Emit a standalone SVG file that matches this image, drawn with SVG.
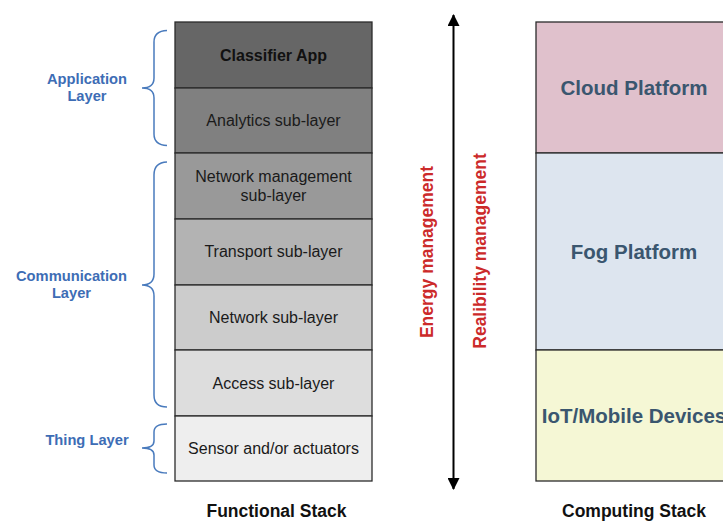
<svg xmlns="http://www.w3.org/2000/svg" width="723" height="521" viewBox="0 0 723 521">
  <style>
    .cell { stroke: #2b2b2b; stroke-width: 1.3; }
    .ct { font-family: "Liberation Sans", Arial, sans-serif; font-size: 16px; fill: #1a1a1a; text-anchor: middle; }
    .ctb { font-family: "Liberation Sans", Arial, sans-serif; font-size: 16px; font-weight: bold; fill: #111; text-anchor: middle; }
    .lbl { font-family: "Liberation Sans", Arial, sans-serif; font-size: 14.7px; font-weight: bold; fill: #3d6db5; text-anchor: middle; }
    .brace { fill: none; stroke: #4a7bbd; stroke-width: 1.5; }
    .plat { font-family: "Liberation Sans", Arial, sans-serif; font-size: 20.5px; font-weight: bold; fill: #3a566f; text-anchor: middle; }
    .mgmt { font-family: "Liberation Sans", Arial, sans-serif; font-size: 17.5px; font-weight: bold; fill: #cc2a2a; text-anchor: middle; }
    .title { font-family: "Liberation Sans", Arial, sans-serif; font-size: 17.5px; font-weight: bold; fill: #111; text-anchor: middle; }
  </style>
  <defs>
    <marker id="head" viewBox="0 0 12 12" refX="11" refY="6" markerWidth="12" markerHeight="12" markerUnits="userSpaceOnUse" orient="auto-start-reverse">
      <path d="M0,0 L12,6 L0,12 Z" fill="#000"/>
    </marker>
  </defs>

  <rect width="723" height="521" fill="#fff"/>

  <!-- Functional stack -->
  <g id="classifier-app">
    <rect class="cell" x="175" y="22" width="197" height="66" fill="#666666"/>
    <text class="ctb" x="273.5" y="61">Classifier App</text>
  </g>
  <g id="analytics">
    <rect class="cell" x="175" y="88" width="197" height="65" fill="#808080"/>
    <text class="ct" x="273.5" y="126">Analytics sub-layer</text>
  </g>
  <g id="network-management">
    <rect class="cell" x="175" y="153" width="197" height="66" fill="#999999"/>
    <text class="ct" x="273.5" y="182">Network management</text>
    <text class="ct" x="273.5" y="200.5">sub-layer</text>
  </g>
  <g id="transport">
    <rect class="cell" x="175" y="219" width="197" height="66" fill="#b3b3b3"/>
    <text class="ct" x="273.5" y="257">Transport sub-layer</text>
  </g>
  <g id="network">
    <rect class="cell" x="175" y="285" width="197" height="65" fill="#cccccc"/>
    <text class="ct" x="273.5" y="323">Network sub-layer</text>
  </g>
  <g id="access">
    <rect class="cell" x="175" y="350" width="197" height="66" fill="#dddddd"/>
    <text class="ct" x="273.5" y="389">Access sub-layer</text>
  </g>
  <g id="sensor">
    <rect class="cell" x="175" y="416" width="197" height="65" fill="#eeeeee"/>
    <text class="ct" x="273.5" y="454">Sensor and/or actuators</text>
  </g>

  <!-- Layer groupings -->
  <g id="application-layer">
    <path class="brace" d="M167,30.5 Q154,31 154,42 L154,78 Q154,88 142,88 Q154,88 154,98 L154,134 Q154,145 167,145.5"/>
    <text class="lbl" x="87" y="84">Application</text>
    <text class="lbl" x="87" y="101">Layer</text>
  </g>
  <g id="communication-layer">
    <path class="brace" d="M167,162 Q154,162.5 154,175 L154,274 Q154,285 142,285 Q154,285 154,296 L154,395 Q154,407 167,407"/>
    <text class="lbl" x="71.5" y="281">Communication</text>
    <text class="lbl" x="71.5" y="298">Layer</text>
  </g>
  <g id="thing-layer">
    <path class="brace" d="M167,424 Q154,424 154,432 L154,441 Q154,448 142,448 Q154,448 154,455 L154,465 Q154,473 167,473"/>
    <text class="lbl" x="87" y="445">Thing Layer</text>
  </g>

  <!-- Management axis -->
  <g id="connectors">
    <line x1="453.5" y1="15" x2="453.5" y2="489" stroke="#000" stroke-width="2" marker-start="url(#head)" marker-end="url(#head)"/>
  </g>
  <g id="energy-management">
    <text class="mgmt" transform="translate(433,252) rotate(-90)">Energy management</text>
  </g>
  <g id="reliability-management">
    <text class="mgmt" transform="translate(486,251) rotate(-90)">Realibility management</text>
  </g>

  <!-- Computing stack -->
  <g id="cloud-platform">
    <rect class="cell" x="536" y="22" width="196" height="131" fill="#e0c1cc"/>
    <text class="plat" x="634" y="95">Cloud Platform</text>
  </g>
  <g id="fog-platform">
    <rect class="cell" x="536" y="153" width="196" height="197" fill="#dde5ef"/>
    <text class="plat" x="634" y="259">Fog Platform</text>
  </g>
  <g id="iot-devices">
    <rect class="cell" x="536" y="350" width="196" height="131" fill="#f5f7d5"/>
    <text class="plat" x="634" y="423">IoT/Mobile Devices</text>
  </g>

  <text class="title" x="276.5" y="517">Functional Stack</text>
  <text class="title" x="634" y="517">Computing Stack</text>
</svg>
